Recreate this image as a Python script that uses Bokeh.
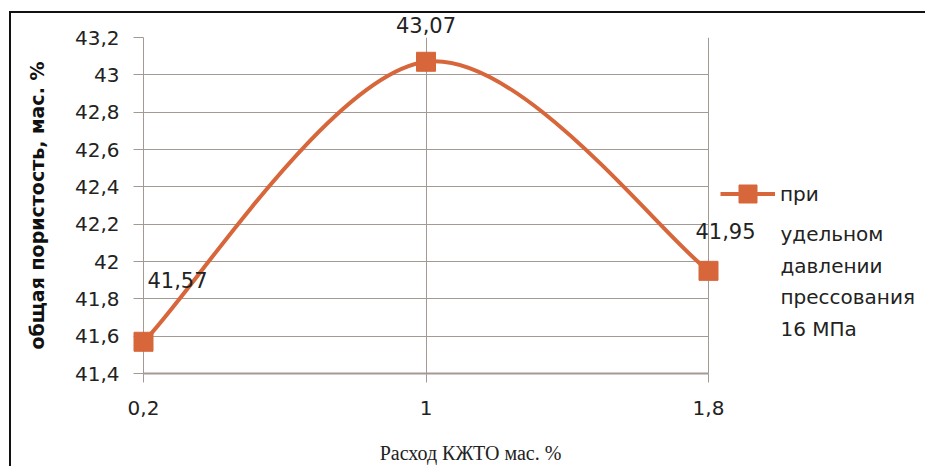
from bokeh.plotting import figure
from bokeh.models import (Legend, LegendItem, FixedTicker, CustomJSTickFormatter, Range1d)
from bokeh.core.properties import value
from bokeh.embed import file_html
from bokeh.resources import INLINE

# ---- data ----
x_vals = [0.2, 1.0, 1.8]
y_vals = [41.57, 43.07, 41.95]
point_labels = ["41,57", "43,07", "41,95"]
x_ticks = [0.2, 1.0, 1.8]
x_tick_labels = ["0,2", "1", "1,8"]
y_ticks = [41.4, 41.6, 41.8, 42.0, 42.2, 42.4, 42.6, 42.8, 43.0, 43.2]
y_tick_labels = ["41,4", "41,6", "41,8", "42", "42,2", "42,4", "42,6", "42,8", "43", "43,2"]
legend_lines = ["при", "удельном", "давлении", "прессования", "16 МПа"]
x_title = "Расход КЖТО мас. %"
y_title = "общая пористость, мас. %"

ORANGE = "#D7663A"
GRID = "#A39A94"
SANS = "DejaVu Sans"
TXT = "#222222"

# geometry (pixels in the figure canvas)
FW, FH = 916, 455
LEFT, TOP, RIGHT, BOTTOM = 132, 24, 8, 95
XMIN, XMAX, YMIN, YMAX = 0.2, 1.8, 41.4, 43.2
PLOT_W = 565                      # pixel width of the 0.2 .. 1.8 span
frame_w = FW - LEFT - RIGHT
frame_h = FH - TOP - BOTTOM
X_END = XMIN + frame_w * (XMAX - XMIN) / PLOT_W   # room on the right for the legend


def px_x(px):  # canvas pixel -> data x
    return XMIN + (px - LEFT) * (XMAX - XMIN) / PLOT_W


def px_y(py):  # canvas pixel -> data y
    return YMIN + (TOP + frame_h - py) * (YMAX - YMIN) / frame_h


p = figure(width=FW, height=FH, output_backend="svg", toolbar_location=None,
           x_range=Range1d(XMIN, X_END), y_range=Range1d(YMIN, YMAX),
           min_border_left=LEFT, min_border_top=TOP, min_border_right=RIGHT,
           min_border_bottom=BOTTOM, margin=(11, 0, 0, 9),
           styles={"border-top": "2px solid #111", "border-left": "2px solid #111"})
p.outline_line_color = None
p.background_fill_color = "white"
p.border_fill_color = "white"


def make_fmt(tks, labs):
    return CustomJSTickFormatter(args=dict(tks=tks, labs=labs), code="""
        let best = 0;
        for (let i = 0; i < tks.length; i++) {
            if (Math.abs(tks[i] - tick) < Math.abs(tks[best] - tick)) best = i;
        }
        return labs[best];
    """)

# axes
p.xaxis.ticker = FixedTicker(ticks=x_ticks)
p.xaxis.formatter = make_fmt(x_ticks, x_tick_labels)
p.xaxis.bounds = (XMIN, XMAX)
p.yaxis.ticker = FixedTicker(ticks=y_ticks)
p.yaxis.formatter = make_fmt(y_ticks, y_tick_labels)
for ax in (p.xaxis[0], p.yaxis[0]):
    ax.major_label_text_font = SANS
    ax.major_label_text_font_size = "20px"
    ax.major_label_text_color = TXT
    ax.minor_tick_line_color = None
    ax.major_tick_in = 0
    ax.major_tick_line_color = GRID
    ax.axis_line_color = GRID
p.xaxis.major_tick_out = 9
p.xaxis.axis_line_width = 2
p.xaxis.major_label_standoff = 18
p.yaxis.major_tick_out = 10
p.yaxis.major_label_standoff = 14

p.yaxis.axis_label = y_title
p.yaxis.axis_label_text_font = SANS
p.yaxis.axis_label_text_font_style = "bold"
p.yaxis.axis_label_text_font_size = "19px"
p.yaxis.axis_label_text_color = "#111111"
p.yaxis.axis_label_standoff = 24

p.xgrid.grid_line_color = GRID
p.ygrid.grid_line_color = GRID
p.ygrid.cross_bounds = (XMIN, XMAX)

# smooth curve (Catmull-Rom style control points from the data points)
n = len(x_vals)
ext_x = [x_vals[0]] + x_vals + [x_vals[-1]]
ext_y = [y_vals[0]] + y_vals + [y_vals[-1]]
x0, y0, x1, y1, cx0, cy0, cx1, cy1 = [], [], [], [], [], [], [], []
for i in range(n - 1):
    x0.append(x_vals[i]); y0.append(y_vals[i])
    x1.append(x_vals[i + 1]); y1.append(y_vals[i + 1])
    cx0.append(x_vals[i] + (ext_x[i + 2] - ext_x[i]) / 6)
    cy0.append(y_vals[i] + (ext_y[i + 2] - ext_y[i]) / 6)
    cx1.append(x_vals[i + 1] - (ext_x[i + 3] - ext_x[i + 1]) / 6)
    cy1.append(y_vals[i + 1] - (ext_y[i + 3] - ext_y[i + 1]) / 6)

r_line = p.bezier(x0=x0, y0=y0, x1=x1, y1=y1, cx0=cx0, cy0=cy0, cx1=cx1, cy1=cy1,
                  line_color=ORANGE, line_width=4, level="overlay")
r_pts = p.scatter(x_vals, y_vals, marker="square", size=19,
                  fill_color=ORANGE, line_color=ORANGE, level="overlay")

# data labels (text glyphs, unclipped at overlay level)
offsets = [(34, -62), (0, -37), (17, -40)]
for xv, yv, txt, (dx, dy) in zip(x_vals, y_vals, point_labels, offsets):
    p.text(x=[xv], y=[yv], text=[txt], x_offset=dx, y_offset=dy,
           text_align="center", text_baseline="middle", level="overlay",
           text_font=value(SANS), text_font_size="21px", text_color=TXT)

# legend (glyph + first line); remaining lines as text below it
legend = Legend(items=[LegendItem(label=legend_lines[0], renderers=[r_line, r_pts])],
                location=(PLOT_W + 12, 157), glyph_width=55, glyph_height=45,
                label_standoff=5, padding=0, margin=0, border_line_color=None,
                background_fill_alpha=0, label_text_font=SANS,
                label_text_font_size="20px", label_text_color=TXT)
p.add_layout(legend, "center")
baselines = [233.5, 265, 296.5, 328]
p.text(x=[px_x(780 - 11)] * 4, y=[px_y(b - 13) for b in baselines], text=legend_lines[1:],
       text_align="left", text_baseline="alphabetic", level="overlay",
       text_font=value(SANS), text_font_size="20px", text_color=TXT)

# x axis title
p.text(x=[px_x(470 - 11)], y=[px_y(452 - 13)], text=[x_title], level="overlay",
       text_align="center", text_baseline="middle",
       text_font=value("Liberation Serif"), text_font_size="20px", text_color=TXT)

open("out.html", "w").write(file_html(p, INLINE))
